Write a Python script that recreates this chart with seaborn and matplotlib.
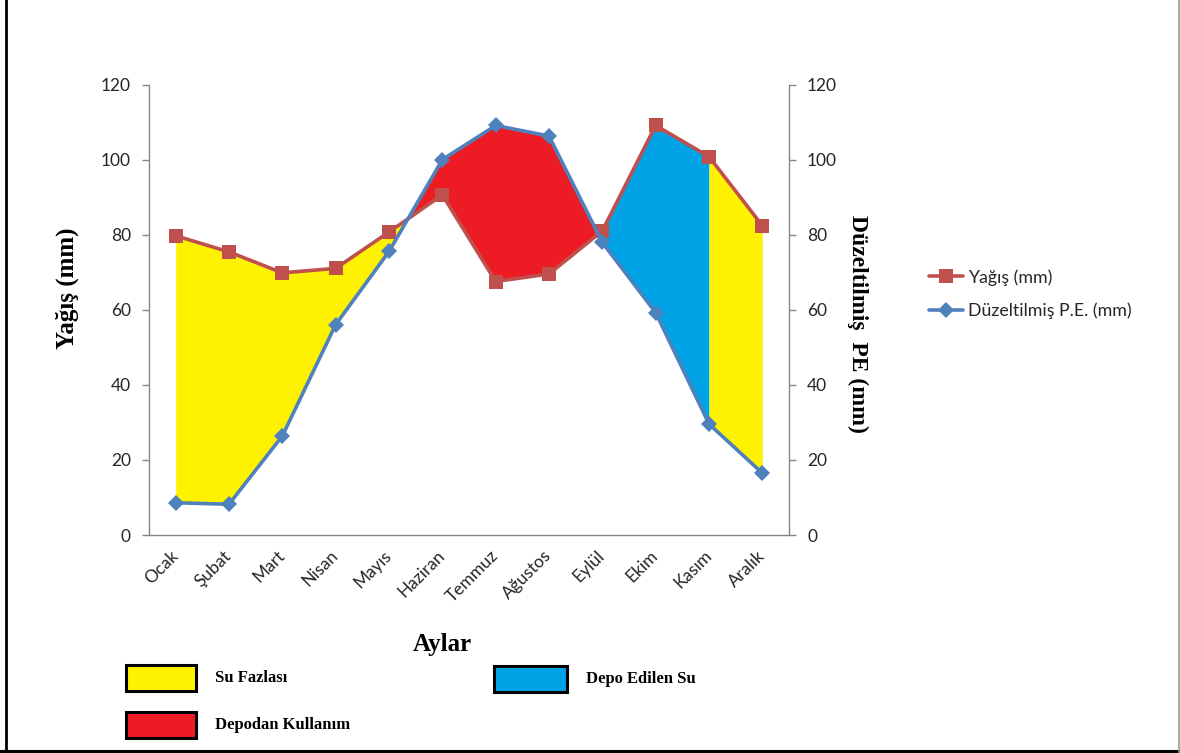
import numpy as np
import matplotlib
matplotlib.use("Agg")
import matplotlib.pyplot as plt
from matplotlib.patches import Rectangle
from matplotlib.lines import Line2D
import seaborn as sns

# Monthly water balance data
months = ["Ocak", "Şubat", "Mart", "Nisan", "Mayıs", "Haziran",
          "Temmuz", "Ağustos", "Eylül", "Ekim", "Kasım", "Aralık"]
rain = [79.8, 75.5, 69.9, 71.1, 80.8, 90.7, 67.6, 69.6, 81.1, 109.2, 100.9, 82.5]
pet = [8.6, 8.2, 26.4, 56.1, 75.6, 100.1, 109.2, 106.4, 78.0, 59.3, 29.6, 16.5]
y_ticks = [0, 20, 40, 60, 80, 100, 120]

sns.set_style("white")
plt.rcParams["font.family"] = ["Lato", "DejaVu Sans"]

RAIN_C = "#C0504D"
PET_C = "#4F81BD"
YELLOW = "#FFF200"
RED = "#ED1C24"
BLUE = "#00A3E6"
SPINE_C = "#868686"
TXT_C = "#262626"

fig = plt.figure(figsize=(11.8, 7.53), dpi=100)
ax = fig.add_axes([149 / 1180, 218 / 753, 640 / 1180, 450 / 753])

x = np.arange(len(months))
r = np.array(rain)
p = np.array(pet)

# Spring surplus (Ocak up to the first crossing)
s = slice(0, 6)
ax.fill_between(x[s], r[s], p[s], where=r[s] >= p[s], interpolate=True,
                color=YELLOW, lw=0, zorder=1)
# Summer deficit: stored water being used
ax.fill_between(x, r, p, where=p >= r, interpolate=True, color=RED, lw=0, zorder=1)
# Autumn recharge up to Kasım
s = slice(7, 11)
ax.fill_between(x[s], r[s], p[s], where=r[s] >= p[s], interpolate=True,
                color=BLUE, lw=0, zorder=1)
# Winter surplus from Kasım onwards
s = slice(10, 12)
ax.fill_between(x[s], r[s], p[s], color=YELLOW, lw=0, zorder=1)

sns.lineplot(x=x, y=r, ax=ax, color=RAIN_C, lw=2.6, marker="s", markersize=10,
             markeredgewidth=0, label="Yağış (mm)", zorder=3)
sns.lineplot(x=x, y=p, ax=ax, color=PET_C, lw=2.6, marker="D", markersize=8,
             markeredgewidth=0, label="Düzeltilmiş P.E. (mm)", zorder=4)

ax.set_xlim(-0.5, len(months) - 0.5)
ax.set_ylim(0, 120)
ax.set_yticks(y_ticks)
ax.set_xticks(x)
ax.set_xticklabels(months, rotation=45, ha="right", va="center",
                   rotation_mode="anchor", fontsize=12.5, color=TXT_C)
ax.set_xticks(np.arange(-0.5, len(months)), minor=True)
ax.tick_params(axis="x", which="major", length=0, pad=13)
ax.tick_params(axis="x", which="minor", length=5, width=1, color=SPINE_C, direction="out")
ax.tick_params(axis="y", length=5, width=1, color=SPINE_C, direction="out",
               labelsize=12.5, labelcolor=TXT_C, pad=8, left=True)

ax2 = ax.twinx()
ax2.set_ylim(0, 120)
ax2.set_yticks(y_ticks)
ax2.tick_params(axis="y", length=5, width=1, color=SPINE_C, direction="out",
                labelsize=12.5, labelcolor=TXT_C, pad=8, right=True)

for a in (ax, ax2):
    a.spines["top"].set_visible(False)
    for sp in ("left", "right", "bottom"):
        a.spines[sp].set_color(SPINE_C)
        a.spines[sp].set_linewidth(1)
ax.spines["right"].set_visible(False)
ax2.spines["left"].set_visible(False)
ax2.spines["bottom"].set_visible(False)
ax.grid(False)
ax2.grid(False)

serif = ["Liberation Serif", "DejaVu Serif"]
fig.text(67 / 1180, 1 - 288 / 753, "Yağış (mm)", rotation=90, ha="center", va="center",
         fontsize=18, fontweight="bold", family=serif, color="black")
fig.text(858 / 1180, 1 - 324 / 753, "Düzeltilmiş  PE (mm)", rotation=-90, ha="center",
         va="center", fontsize=17, fontweight="bold", family=serif, color="black")
fig.text(442 / 1180, 1 - 645 / 753, "Aylar", ha="center", va="center",
         fontsize=18, fontweight="bold", family=serif, color="black")

handles, labels = ax.get_legend_handles_labels()
if ax.legend_:
    ax.legend_.remove()
fig.legend(handles, labels, loc="center left", bbox_to_anchor=(917 / 1180, 1 - 294 / 753),
           frameon=False, fontsize=12.8, handlelength=1.9, handletextpad=0.25,
           labelspacing=0.95, labelcolor=TXT_C, borderpad=0.2)

# Colour key for the filled areas
keys = [
    (126, 665, 70, 26, YELLOW, "Su Fazlası"),
    (494, 666, 73, 26, BLUE, "Depo Edilen Su"),
    (126, 712, 70, 26, RED, "Depodan Kullanım"),
]
for kx, ky, kw, kh, kc, kt in keys:
    fig.add_artist(Rectangle((kx / 1180, 1 - (ky + kh) / 753), kw / 1180, kh / 753,
                             transform=fig.transFigure, facecolor=kc,
                             edgecolor="black", linewidth=2.2))
    fig.text((kx + kw + 19) / 1180, 1 - (ky + kh / 2) / 753, kt, ha="left", va="center",
             fontsize=12, fontweight="bold", family=serif, color="black")

# Frame lines around the figure
fig.add_artist(Line2D([6 / 1180, 6 / 1180], [0, 1], transform=fig.transFigure,
                      color="black", lw=2))
fig.add_artist(Line2D([0, 1], [2.5 / 753, 2.5 / 753], transform=fig.transFigure,
                      color="black", lw=2.2))
fig.add_artist(Line2D([1179 / 1180, 1179 / 1180], [0, 1], transform=fig.transFigure,
                      color="#9a9a9a", lw=1.2))

fig.savefig("out.png", dpi=100)
